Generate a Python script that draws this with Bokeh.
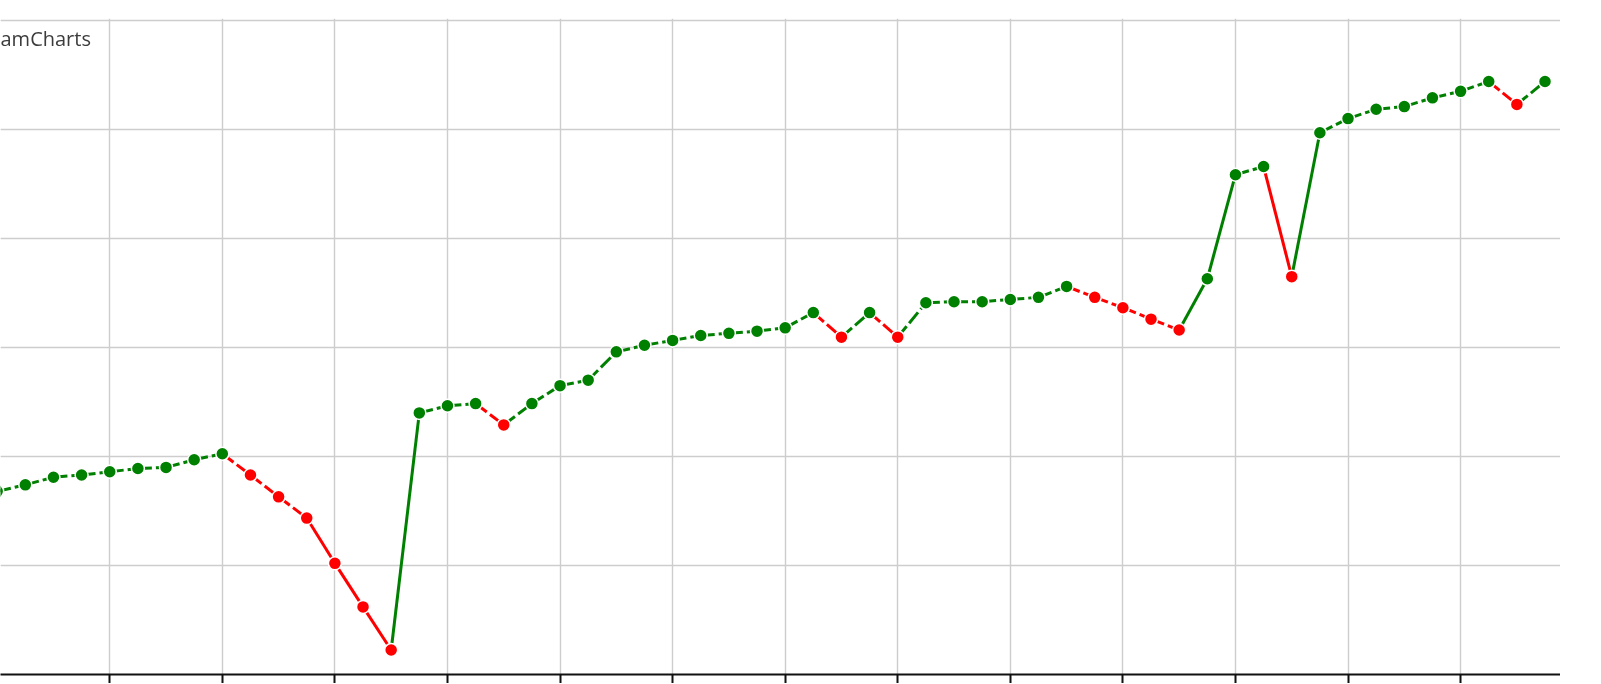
from bokeh.plotting import figure
from bokeh.models import Range1d, FixedTicker, Grid, Label, ColumnDataSource
from bokeh.embed import file_html
from bokeh.resources import INLINE

# ---- data (x = item index, y = value in arbitrary units) ----
item_index = list(range(56))
values = [
    16.8, 17.4, 18.1, 18.3, 18.6, 18.9, 19.0, 19.7, 20.25, 18.3,
    16.3, 14.35, 10.2, 6.2, 2.25, 24.0, 24.65, 24.85, 22.9, 24.85,
    26.5, 27.0, 29.6, 30.2, 30.65, 31.1, 31.3, 31.5, 31.8, 33.2,
    30.95, 33.2, 30.95, 34.1, 34.2, 34.2, 34.4, 34.6, 35.6, 34.6,
    33.65, 32.6, 31.6, 36.3, 45.85, 46.6, 36.5, 49.7, 51.0, 51.85,
    52.1, 52.9, 53.5, 54.4, 52.3, 54.4,
]
x_grid_ticks = list(range(0, 56, 4))
y_grid_ticks = [0, 10, 20, 30, 40, 50, 60]
watermark = "amCharts"

UP = "#008000"
DOWN = "#ff0000"
DASH_LIMIT = 3.5  # small moves drawn dashed, large moves solid

# point colours: green when the value rose, red when it fell
colors = [UP] + [UP if values[i] >= values[i - 1] else DOWN for i in range(1, len(values))]

solid = dict(x0=[], y0=[], x1=[], y1=[], c=[])
dashed = dict(x0=[], y0=[], x1=[], y1=[], c=[])
for i in range(1, len(values)):
    d = solid if abs(values[i] - values[i - 1]) > DASH_LIMIT else dashed
    d["x0"].append(item_index[i - 1]); d["y0"].append(values[i - 1])
    d["x1"].append(item_index[i]); d["y1"].append(values[i])
    d["c"].append(colors[i])

p = figure(
    frame_width=1560, frame_height=656,
    x_range=Range1d(0.118, 55.55), y_range=Range1d(0, 60.18),
    output_backend="svg", toolbar_location=None,
    x_axis_location="below", y_axis_location=None,
    min_border_left=0, min_border_right=0, min_border_top=18, min_border_bottom=0,
    background_fill_color="white", border_fill_color="white",
    styles={"position": "fixed", "left": "0px", "top": "0px"},
)
p.outline_line_color = None

# x axis: ticks only
ax = p.xaxis[0]
ax.ticker = FixedTicker(ticks=x_grid_ticks)
ax.major_label_overrides = {t: "" for t in x_grid_ticks}
ax.major_label_standoff = 0
ax.major_tick_out = 9
ax.major_tick_in = 0
ax.minor_tick_out = 0
ax.minor_tick_in = 0
ax.axis_line_color = "#111111"
ax.axis_line_width = 2
ax.major_tick_line_color = "#111111"
ax.major_tick_line_width = 2

p.xgrid.grid_line_color = "#cdcdcd"
p.xgrid.grid_line_width = 1.4
p.xgrid.ticker = FixedTicker(ticks=x_grid_ticks)
ygrid = Grid(dimension=1, ticker=FixedTicker(ticks=y_grid_ticks),
             grid_line_color="#cdcdcd", grid_line_width=1.4)
p.add_layout(ygrid)

p.segment("x0", "y0", "x1", "y1", source=ColumnDataSource(dashed),
          line_color="c", line_width=3, line_dash="14 4")
p.segment("x0", "y0", "x1", "y1", source=ColumnDataSource(solid),
          line_color="c", line_width=3)

pts = ColumnDataSource(dict(x=item_index, y=values, c=colors))
p.scatter("x", "y", source=pts, size=13, fill_color="c",
          line_color="white", line_width=1.5)

p.add_layout(Label(x=0, y=636, x_units="screen", y_units="screen", text=watermark,
                   text_font="Open Sans", text_font_size="20px", text_color="#3c3c3c",
                   text_align="left", text_baseline="alphabetic"))

open("out.html", "w").write(file_html(p, INLINE))
